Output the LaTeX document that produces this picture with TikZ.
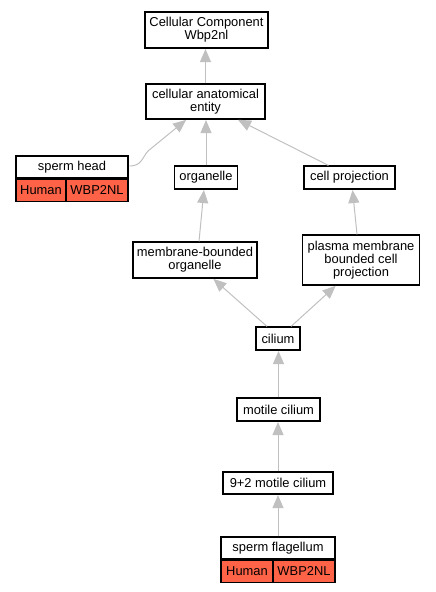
\documentclass[tikz,border=0pt]{standalone}
\usepackage{fontspec}
\setmainfont{Liberation Sans}
\usepackage{xcolor}
\usepackage{tikz}
\usetikzlibrary{arrows.meta,positioning,calc}
\definecolor{genered}{RGB}{255,99,71}
\definecolor{edgegray}{RGB}{192,192,192}

\begin{document}
\begin{tikzpicture}[
  x=1pt, y=-1pt,
  box/.style={draw, line width=1.1pt, fill=white, align=center, inner sep=0pt, font=\fontsize{12.9}{13.3}\selectfont},
  cell/.style={box, fill=genered, minimum height=22pt},
  arrow/.style={-{Triangle[length=13pt,width=11pt]}, draw=edgegray, line width=1pt, shorten >=0.5pt}
]
\useasboundingbox (0,0) rectangle (436,592);

\node[box, minimum width=123pt, minimum height=36pt] (cc) at (206.5,30) {Cellular Component\\Wbp2nl};
\node[box, minimum width=119pt, minimum height=35pt] (cae) at (205.5,101.5) {cellular anatomical\\entity};
\node[box, minimum width=112pt, minimum height=22pt] (shead) at (72,167) {sperm head};
\node[cell, minimum width=50pt, anchor=north west] (shhuman) at (shead.south west) {Human};
\node[cell, minimum width=62pt, anchor=north east] (shgene) at (shead.south east) {WBP2NL};
\node[box, minimum width=63pt, minimum height=23pt] (org) at (206,177.5) {organelle};
\node[box, minimum width=91pt, minimum height=23pt] (cp) at (349.5,177.5) {cell projection};
\node[box, minimum width=124pt, minimum height=36pt] (mbo) at (195,260) {membrane-bounded\\organelle};
\node[box, minimum width=117pt, minimum height=50pt] (pmbcp) at (361,260) {plasma membrane\\bounded cell\\projection};
\node[box, minimum width=44pt, minimum height=23pt] (cil) at (278,338.5) {cilium};
\node[box, minimum width=83pt, minimum height=23pt] (mot) at (278.5,409.5) {motile cilium};
\node[box, minimum width=110pt, minimum height=22pt] (nine) at (278,483) {9+2 motile cilium};
\node[box, minimum width=114pt, minimum height=22pt] (flag) at (278,548) {sperm flagellum};
\node[cell, minimum width=52pt, anchor=north west] (flhuman) at (flag.south west) {Human};
\node[cell, minimum width=62pt, anchor=north east] (flgene) at (flag.south east) {WBP2NL};

\coordinate (shbend) at (148,151);

\draw[arrow] (cae.north) -- (cae.north |- cc.south);
\draw[arrow] (org.north) -- (org.north |- cae.south);
\draw[arrow] ($(shead.east)+(1,-1)$) .. controls +(12,0) and +(-6,7) .. (shbend) -- ($(cae.south)+(-19,0)$);
\draw[arrow] ($(cp.north)+(-21,0)$) -- ($(cae.south)+(32,0)$);
\draw[arrow] ($(mbo.north)+(4,0)$) -- ($(org.south)+(-2,0)$);
\draw[arrow] ($(pmbcp.north)+(-4,0)$) -- ($(cp.south)+(3,0)$);
\draw[arrow] ($(cil.north)+(-11,0)$) -- ($(mbo.south)+(18,0)$);
\draw[arrow] ($(cil.north)+(13,0)$) -- ($(pmbcp.south)+(-25,0)$);
\draw[arrow] (mot.north) -- (mot.north |- cil.south);
\draw[arrow] (nine.north) -- (nine.north |- mot.south);
\draw[arrow] (flag.north) -- (flag.north |- nine.south);
\end{tikzpicture}
\end{document}
